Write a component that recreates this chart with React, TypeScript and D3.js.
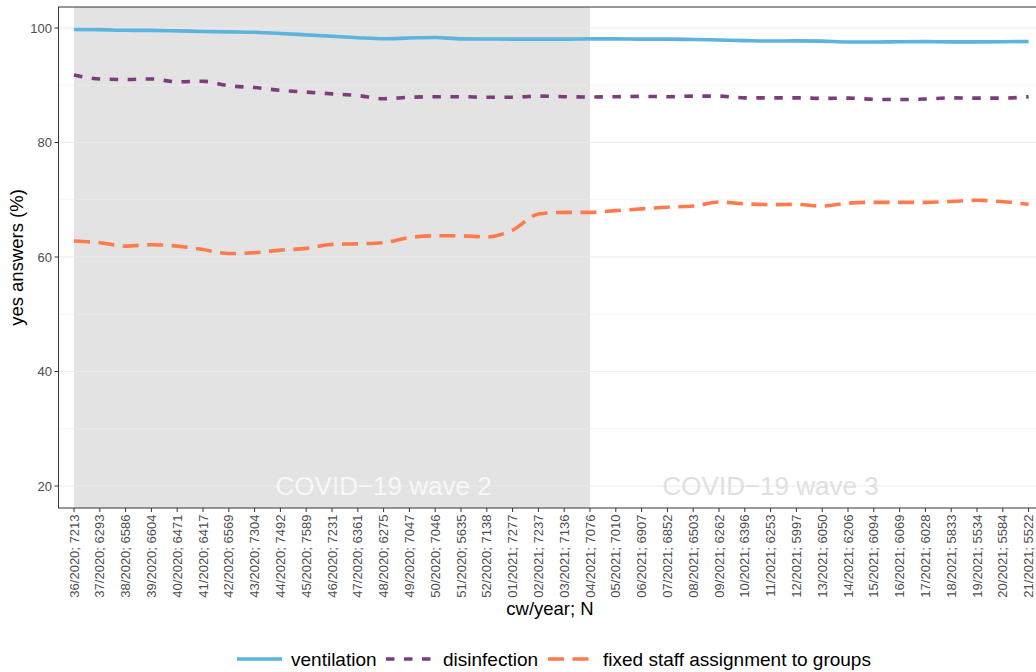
import React from "react";
import * as d3 from "d3";

const weeks = [
  "36/2020", "37/2020", "38/2020", "39/2020", "40/2020", "41/2020", "42/2020", "43/2020",
  "44/2020", "45/2020", "46/2020", "47/2020", "48/2020", "49/2020", "50/2020", "51/2020",
  "52/2020", "01/2021", "02/2021", "03/2021", "04/2021", "05/2021", "06/2021", "07/2021",
  "08/2021", "09/2021", "10/2021", "11/2021", "12/2021", "13/2021", "14/2021", "15/2021",
  "16/2021", "17/2021", "18/2021", "19/2021", "20/2021", "21/2021",
];
const counts = [
  7213, 6293, 6586, 6604, 6471, 6417, 6569, 7304, 7492, 7589, 7231, 6361, 6275, 7047, 7046, 5635,
  7138, 7277, 7237, 7136, 7076, 7010, 6907, 6852, 6503, 6262, 6396, 6253, 5997, 6050, 6206, 6094,
  6069, 6028, 5833, 5534, 5584, 5522,
];
const ventilation = [
  99.75, 99.72, 99.6, 99.58, 99.5, 99.4, 99.32, 99.25, 99.05, 98.8, 98.55, 98.3, 98.12, 98.25,
  98.35, 98.1, 98.08, 98.05, 98.05, 98.05, 98.1, 98.1, 98.05, 98.05, 98.0, 97.9, 97.8, 97.72,
  97.75, 97.7, 97.55, 97.55, 97.6, 97.62, 97.58, 97.58, 97.6, 97.65,
];
const disinfection = [
  91.8, 91.1, 91.0, 91.1, 90.6, 90.7, 89.9, 89.6, 89.1, 88.8, 88.5, 88.2, 87.65, 87.9, 88.0, 88.0,
  87.9, 87.9, 88.1, 88.0, 87.95, 88.0, 88.05, 88.0, 88.1, 88.1, 87.8, 87.8, 87.8, 87.7, 87.75,
  87.55, 87.5, 87.6, 87.8, 87.75, 87.75, 88.0,
];
const fixedStaff = [
  62.8, 62.5, 61.9, 62.15, 61.9, 61.3, 60.6, 60.75, 61.2, 61.5, 62.2, 62.3, 62.5, 63.4, 63.7, 63.7,
  63.5, 64.7, 67.5, 67.8, 67.8, 68.1, 68.4, 68.7, 68.9, 69.6, 69.3, 69.15, 69.2, 68.9, 69.4, 69.55,
  69.55, 69.55, 69.7, 69.9, 69.65, 69.2,
];
const yTicks = [20, 40, 60, 80, 100];
const yMinor = [30, 50, 70, 90];
const seriesNames = ["ventilation", "disinfection", "fixed staff assignment to groups"];
const waves = [
  { label: "COVID\u221219 wave 2", from: "36/2020", to: "04/2021", at: "48/2020", shaded: true },
  { label: "COVID\u221219 wave 3", from: "04/2021", to: "21/2021", at: "11/2021", shaded: false },
];

const W = 1036;
const H = 672;
const FONT = "'Liberation Sans', Arial, Helvetica, sans-serif";

const labels = weeks.map((w, i) => `${w}; ${counts[i]}`);

const styles = [
  { color: "#5BB3DE", dash: null as string | null },
  { color: "#7F3A80", dash: "8.5,9.5" },
  { color: "#FF7A4C", dash: "16,8.5" },
];
const allSeries = [ventilation, disinfection, fixedStaff];

export default function App() {
  const x = d3.scalePoint<string>().domain(labels).range([74, 1028.6]);
  const step = x.step();
  const panelL = 74 - 0.6 * step;
  const panelR = 1028.6 + 0.6 * step;
  const panelT = 7;
  const panelB = 508;
  const y = d3.scaleLinear().domain([20, 100]).range([486, 28]);

  const line = d3
    .line<number>()
    .x((_, i) => x(labels[i]) as number)
    .y((d) => y(d))
    .curve(d3.curveMonotoneX);

  const labelFor = (w: string) => labels[weeks.indexOf(w)];

  const legendItems = [
    { key: 237, text: 291 },
    { key: 386, text: 443 },
    { key: 548, text: 603 },
  ];

  return (
    <svg
      width={W}
      height={H}
      style={{ position: "absolute", left: 0, top: 0, background: "#fff" }}
      fontFamily={FONT}
    >
      <defs>
        <clipPath id="panel">
          <rect x={panelL} y={panelT} width={panelR - panelL} height={panelB - panelT} />
        </clipPath>
      </defs>
      <rect x={0} y={0} width={W} height={H} fill="#fff" />
      <g clipPath="url(#panel)">
        {waves
          .filter((w) => w.shaded)
          .map((w, i) => (
            <rect
              key={i}
              x={x(labelFor(w.from)) as number}
              y={panelT}
              width={(x(labelFor(w.to)) as number) - (x(labelFor(w.from)) as number)}
              height={panelB - panelT}
              fill="#e3e3e3"
            />
          ))}
        {yMinor.map((t) => (
          <line key={"m" + t} x1={panelL} x2={panelR} y1={y(t)} y2={y(t)} stroke="#f0f0f0" strokeWidth={0.6} />
        ))}
        {yTicks.map((t) => (
          <line key={"g" + t} x1={panelL} x2={panelR} y1={y(t)} y2={y(t)} stroke="#ebebeb" strokeWidth={1.1} />
        ))}
        {waves.map((w, i) => (
          <text
            key={i}
            x={x(labelFor(w.at)) as number}
            y={y(20)}
            dy="0.35em"
            textAnchor="middle"
            fontSize={26}
            fill={w.shaded ? "#f7f7f7" : "#e0e0e0"}
          >
            {w.label}
          </text>
        ))}
        {allSeries.map((s, i) => (
          <path
            key={i}
            d={line(s) || ""}
            fill="none"
            stroke={styles[i].color}
            strokeWidth={3.6}
            strokeDasharray={styles[i].dash || undefined}
            strokeLinecap="butt"
          />
        ))}
      </g>
      <rect
        x={panelL}
        y={panelT}
        width={panelR - panelL}
        height={panelB - panelT}
        fill="none"
        stroke="#333"
        strokeWidth={1}
      />
      {/* y axis */}
      {yTicks.map((t) => (
        <g key={t}>
          <line x1={panelL - 4} x2={panelL} y1={y(t)} y2={y(t)} stroke="#333" strokeWidth={1} />
          <text x={panelL - 6.5} y={y(t)} dy="0.35em" textAnchor="end" fontSize={13} fill="#4d4d4d">
            {t}
          </text>
        </g>
      ))}
      {/* x axis */}
      {labels.map((l) => {
        const px = x(l) as number;
        return (
          <g key={l}>
            <line x1={px} x2={px} y1={panelB} y2={panelB + 4} stroke="#333" strokeWidth={1} />
            <text
              transform={`translate(${px},${panelB + 6.5}) rotate(-90)`}
              dy="0.35em"
              textAnchor="end"
              fontSize={13}
              fill="#4d4d4d"
            >
              {l}
            </text>
          </g>
        );
      })}
      <text x={550} y={615} textAnchor="middle" fontSize={18.5} fill="#000">
        cw/year; N
      </text>
      <text transform={`translate(23,${(panelT + panelB) / 2}) rotate(-90)`} textAnchor="middle" fontSize={18.5} fill="#000">
        yes answers (%)
      </text>
      {/* legend */}
      {seriesNames.map((n, i) => (
        <g key={n}>
          <line
            x1={legendItems[i].key}
            x2={legendItems[i].key + 45}
            y1={659}
            y2={659}
            stroke={styles[i].color}
            strokeWidth={3.6}
            strokeDasharray={styles[i].dash || undefined}
          />
          <text x={legendItems[i].text} y={659} dy="0.35em" fontSize={19} fill="#000">
            {n}
          </text>
        </g>
      ))}
    </svg>
  );
}
